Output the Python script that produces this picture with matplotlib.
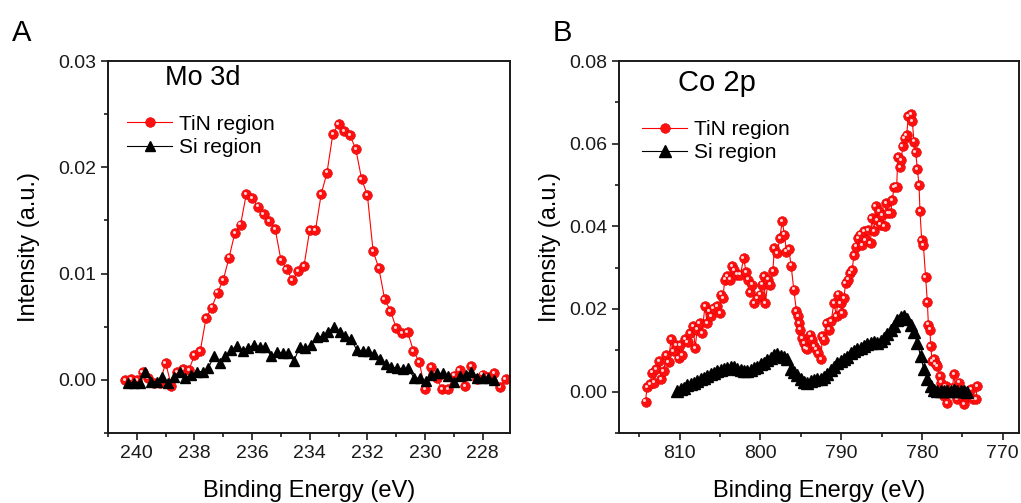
import numpy as np
import matplotlib
matplotlib.use("Agg")
import matplotlib.pyplot as plt
from matplotlib.ticker import MultipleLocator, FormatStrFormatter
from matplotlib.transforms import offset_copy

plt.rcParams["font.family"] = ["Liberation Sans", "DejaVu Sans"]

# --- Mo 3d (panel A) ---
mo_tin = [0.0000, 0.0001, 0.0000, 0.0007, 0.0002, -0.0003, -0.0003, 0.0016, -0.0006, 0.0007,
          0.0010, 0.0009, 0.0023, 0.0027, 0.0058, 0.0068, 0.0082, 0.0094, 0.0115, 0.0138,
          0.0146, 0.0175, 0.0171, 0.0163, 0.0156, 0.0149, 0.0142, 0.0113, 0.0104, 0.0094,
          0.0102, 0.0107, 0.0141, 0.0141, 0.0175, 0.0195, 0.0231, 0.0241, 0.0234, 0.0230,
          0.0217, 0.0189, 0.0174, 0.0121, 0.0105, 0.0076, 0.0065, 0.0049, 0.0044, 0.0045,
          0.0027, 0.0017, -0.0009, 0.0012, 0.0002, -0.0009, -0.0009, 0.0004, 0.0009, -0.0006,
          0.0013, 0.0001, 0.0005, 0.0003, 0.0006, -0.0007, 0.0001]
mo_tin_be = np.linspace(240.4, 227.2, len(mo_tin))

mo_si = [-0.00025, -0.00025, -0.00025, 0.0007, -0.00016, -0.00016, 0.0003, -0.00025, 0.0003, 0.0007,
         0.00016, 0.00047, 0.00078, 0.00078, 0.0011, 0.00226, 0.00157, 0.00226, 0.0028, 0.0032,
         0.0027, 0.0030, 0.0033, 0.0031, 0.0031, 0.0022, 0.0026, 0.0025, 0.0025, 0.0018,
         0.0031, 0.0030, 0.0033, 0.0040, 0.0041, 0.0045, 0.0050, 0.0045, 0.0041, 0.0038,
         0.0028, 0.0027, 0.0027, 0.0024, 0.0020, 0.0015, 0.0012, 0.0011, 0.0010, 0.0011,
         0.00016, 0.00016, -0.0001, 0.00047, 0.0006, 0.0006, 0.0004, -0.0002, 0.0004, 0.00047,
         0.0007, 0.00016, 0.00016, 0.00016, 0.0000]
mo_si_be = np.linspace(240.3, 227.6, len(mo_si))

# --- Co 2p (panel B) ---
co_tin_be = [814.21, 814.05, 813.64, 813.43, 813.14, 812.89, 812.52, 812.27, 811.98, 811.65,
             811.36, 811.07, 810.74, 810.41, 810.12, 809.92, 809.71, 809.30, 809.01, 808.68,
             808.35, 808.06, 807.85, 807.52, 807.23, 806.86, 806.61, 806.28, 806.12, 805.79,
             805.37, 805.04, 804.88, 804.63, 804.42, 804.13, 803.80, 803.51, 803.22, 802.89,
             802.48, 802.07, 801.78, 801.53, 801.32, 801.03, 800.74, 800.41, 800.08, 799.79,
             799.59, 799.38, 799.05, 798.76, 798.47, 798.26, 797.93, 797.60, 797.31, 797.02,
             796.78, 796.49, 796.20, 795.87, 795.54, 795.37, 795.25, 795.04, 794.83, 794.63,
             794.42, 794.21, 793.88, 793.60, 793.39, 793.10, 792.89, 792.48, 792.36, 792.07,
             791.82, 791.53, 791.24, 790.91, 790.58, 790.41, 790.08, 789.88, 789.67, 789.46,
             789.17, 788.93, 788.64, 788.43, 788.18, 787.93, 787.69, 787.40, 787.19, 786.98,
             786.69, 786.36, 786.24, 785.95, 785.74, 785.54, 785.33, 785.12, 784.92, 784.63,
             784.42, 784.17, 783.88, 783.68, 783.47, 783.14, 782.98, 782.73, 782.56, 782.40,
             782.15, 781.90, 781.69, 781.36, 781.20, 780.99, 780.79, 780.58, 780.37, 780.25,
             780.04, 779.83, 779.55, 779.34, 779.21, 779.01, 778.93, 778.72, 778.51, 778.31,
             778.10, 777.77, 777.60, 777.27, 777.07, 776.86, 776.53, 776.24, 776.03, 775.70,
             775.41, 775.21, 774.79, 774.46, 774.17, 773.97, 773.64, 773.35, 773.14]
co_tin = [-0.0024, 0.0011, 0.0019, 0.0046, 0.0022, 0.0054, 0.0074, 0.0030, 0.0050, 0.0088,
          0.0072, 0.0128, 0.0098, 0.0112, 0.0082, 0.0112, 0.0088, 0.0128, 0.0120, 0.0142,
          0.0158, 0.0106, 0.0150, 0.0166, 0.0142, 0.0207, 0.0166, 0.0195, 0.0182, 0.0203,
          0.0207, 0.0190, 0.0235, 0.0227, 0.0271, 0.0279, 0.0271, 0.0303, 0.0295, 0.0283,
          0.0283, 0.0323, 0.0289, 0.0271, 0.0240, 0.0259, 0.0215, 0.0227, 0.0235, 0.0259,
          0.0280, 0.0215, 0.0271, 0.0259, 0.0291, 0.0347, 0.0335, 0.0371, 0.0412, 0.0380,
          0.0339, 0.0345, 0.0305, 0.0247, 0.0195, 0.0182, 0.0166, 0.0150, 0.0130, 0.0118,
          0.0106, 0.0102, 0.0138, 0.0126, 0.0110, 0.0102, 0.0094, 0.0078, 0.0134, 0.0126,
          0.0166, 0.0150, 0.0170, 0.0215, 0.0182, 0.0235, 0.0215, 0.0190, 0.0227, 0.0263,
          0.0271, 0.0287, 0.0295, 0.0331, 0.0351, 0.0371, 0.0380, 0.0355, 0.0388, 0.0367,
          0.0391, 0.0359, 0.0420, 0.0388, 0.0448, 0.0416, 0.0436, 0.0404, 0.0428, 0.0400,
          0.0456, 0.0432, 0.0432, 0.0464, 0.0494, 0.0496, 0.0568, 0.0544, 0.0560, 0.0594,
          0.0613, 0.0621, 0.0666, 0.0671, 0.0654, 0.0605, 0.0580, 0.0539, 0.0500, 0.0436,
          0.0367, 0.0355, 0.0277, 0.0217, 0.0162, 0.0150, 0.0110, 0.0074, 0.0078, 0.0066,
          0.0062, 0.0038, 0.0022, -0.0010, 0.0014, -0.0027, -0.0002, 0.0010, 0.0042, -0.0018,
          0.0022, -0.0010, -0.0030, -0.0014, -0.0010, 0.0006, -0.0018, -0.0018, 0.0014]

co_si = [0.00016, 0.00056, 0.00096, 0.00153, 0.00193, 0.00217, 0.00257, 0.00297, 0.00338, 0.00378,
         0.00418, 0.00458, 0.0049, 0.00523, 0.00555, 0.00579, 0.00603, 0.00595, 0.00555, 0.00523,
         0.00506, 0.00498, 0.00523, 0.00579, 0.00603, 0.00659, 0.00699, 0.00756, 0.0082, 0.00876,
         0.0090, 0.0086, 0.00844, 0.0078, 0.00555, 0.00474, 0.00394, 0.00297, 0.00233, 0.00217,
         0.00257, 0.00281, 0.00314, 0.00297, 0.00362, 0.00418, 0.00523, 0.00603, 0.00683, 0.0074,
         0.00796, 0.00844, 0.00924, 0.00981, 0.01021, 0.01061, 0.01101, 0.01141, 0.01182, 0.01198,
         0.01182, 0.01222, 0.01302, 0.01383, 0.01487, 0.0160, 0.01728, 0.01809, 0.01841, 0.0176,
         0.01624, 0.01439, 0.01182, 0.0086, 0.00539, 0.00297, 0.00137, 0.0004, 0.00016, 0.00008,
         0.00024, 0.00016, 0.00024, 0.0004, 0.00016, 0.00024, 0.00008, 0.0]
co_si_be = np.linspace(810.3, 774.4, len(co_si))


def style_axes(ax):
    for s in ax.spines.values():
        s.set_linewidth(1.4)
        s.set_color("#1a1a1a")
    ax.tick_params(which="both", direction="out", top=False, right=False,
                   width=1.2, labelsize=14, colors="#1a1a1a")
    ax.tick_params(which="major", length=5)
    ax.tick_params(which="minor", length=3)


def draw_panel(ax, fig, tin_x, tin_y, si_x, si_y, tri_ms):
    ax.plot(tin_x, tin_y, "-o", color="red", lw=0.8, ms=7, mfc="#ff1010",
            mec="#e00000", mew=0.4, label="TiN region")
    # small highlight on each sphere, nudged up-left
    hl = offset_copy(ax.transData, fig=fig, x=-1.2, y=1.2, units="dots")
    ax.plot(tin_x, tin_y, "o", color="#ffd6d6", ms=2.2, mew=0, transform=hl,
            label="_nolegend_")
    ax.plot(si_x, si_y, "-^", color="black", lw=0.8, ms=tri_ms, label="Si region")
    ax.set_xlabel("Binding Energy (eV)", fontsize=17)
    ax.set_ylabel("Intensity (a.u.)", fontsize=17)


fig = plt.figure(figsize=(10.21, 5.03), dpi=100)

ax1 = fig.add_axes([0.1058, 0.1392, 0.3937, 0.7395])
draw_panel(ax1, fig, mo_tin_be, mo_tin, mo_si_be, mo_si, 7.5)
ax1.set_xlim(241.0, 227.05)
ax1.set_ylim(-0.005, 0.03)
ax1.xaxis.set_major_locator(MultipleLocator(2))
ax1.xaxis.set_minor_locator(MultipleLocator(1))
ax1.yaxis.set_major_locator(MultipleLocator(0.01))
ax1.yaxis.set_minor_locator(MultipleLocator(0.005))
ax1.yaxis.set_major_formatter(FormatStrFormatter("%.2f"))
style_axes(ax1)
ax1.text(0.142, 0.955, "Mo 3d", transform=ax1.transAxes, fontsize=19.5, va="center")
ax1.legend(loc="upper left", bbox_to_anchor=(0.01, 0.895), frameon=False, fontsize=15,
           handlelength=2.2, handletextpad=0.3, labelspacing=0.2, borderpad=0.2)
ax1.yaxis.set_label_coords(-0.17, 0.5)
ax1.xaxis.set_label_coords(0.5, -0.127)

ax2 = fig.add_axes([0.6063, 0.1392, 0.3917, 0.7395])
draw_panel(ax2, fig, co_tin_be, co_tin, co_si_be, co_si, 8)
ax2.set_xlim(817.5, 768.0)
ax2.set_ylim(-0.01, 0.08)
ax2.xaxis.set_major_locator(MultipleLocator(10))
ax2.xaxis.set_minor_locator(MultipleLocator(5))
ax2.yaxis.set_major_locator(MultipleLocator(0.02))
ax2.yaxis.set_minor_locator(MultipleLocator(0.01))
ax2.yaxis.set_major_formatter(FormatStrFormatter("%.2f"))
style_axes(ax2)
ax2.text(0.1475, 0.94, "Co 2p", transform=ax2.transAxes, fontsize=21, va="center")
ax2.legend(loc="upper left", bbox_to_anchor=(0.02, 0.88), frameon=False, fontsize=15,
           handlelength=2.2, handletextpad=0.3, labelspacing=0.2, borderpad=0.2)
ax2.yaxis.set_label_coords(-0.145, 0.5)
ax2.xaxis.set_label_coords(0.5, -0.127)

fig.text(0.012, 0.935, "A", fontsize=21, va="center")
fig.text(0.541, 0.935, "B", fontsize=21, va="center")

fig.savefig("out.png", dpi=100)
